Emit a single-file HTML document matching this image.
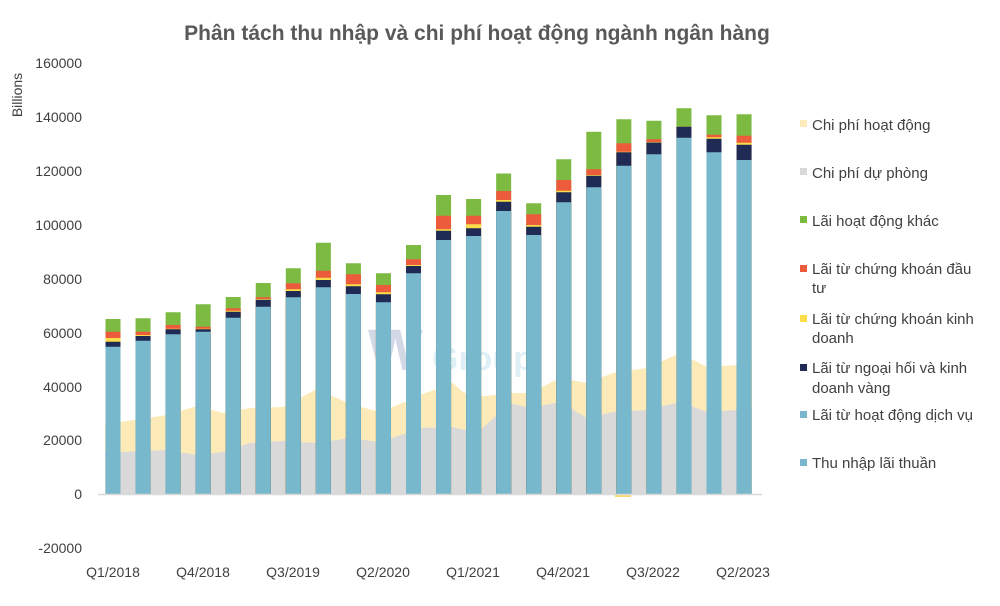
<!DOCTYPE html>
<html><head><meta charset="utf-8"><style>
body{margin:0;background:#fff;}
svg{display:block;font-family:"Liberation Sans",sans-serif;}
</style></head><body>
<svg width="1000" height="606" viewBox="0 0 1000 606" xmlns="http://www.w3.org/2000/svg">
<rect width="1000" height="606" fill="#fff"/>
<text x="477" y="40" text-anchor="middle" font-size="21" font-weight="bold" fill="#595959">Phân tách thu nhập và chi phí hoạt động ngành ngân hàng</text>
<text transform="translate(22,95) rotate(-90)" text-anchor="middle" font-size="14" fill="#404040">Billions</text>
<g font-size="14" fill="#404040" text-anchor="end">
<text x="82" y="68">160000</text><text x="82" y="122">140000</text><text x="82" y="176">120000</text>
<text x="82" y="230">100000</text><text x="82" y="284">80000</text><text x="82" y="338">60000</text>
<text x="82" y="392">40000</text><text x="82" y="445">20000</text><text x="82" y="499">0</text>
<text x="82" y="553">-20000</text>
</g>
<polygon fill="#fcebb8" points="105,494 105,423 120,422 167,415 197,406 223,413 250,408 283,407 317,389 350,404 380,412 410,400 420,395 453,383 463,392 477,397 510,393 530,393 560,378 587,383 613,373 647,368 680,353 707,367 737,365 752,362 752,494"/>
<polygon fill="#d9d9d9" points="105,494 105,452 120,452 167,450 197,455 223,452 250,443 283,441 317,443 350,438 380,442 410,432 420,428 453,427 477,433 510,403 530,408 560,402 587,418 613,412 647,410 680,402 707,412 737,410 752,408 752,494"/>
<rect x="615" y="494" width="16" height="3" fill="#fcd96b"/>
<text x="368" y="370" font-size="58" font-weight="bold" fill="#6f7fb0" opacity="0.3">W</text>
<text x="432" y="370" font-size="34" font-weight="bold" fill="#bfe0ee" opacity="0.5">Group</text>
<g fill="none" stroke-width="15">
<path stroke="#7cba42" d="M113 319V494M143.05 318.3V494M173.1 312.3V494M203.15 304.3V494M233.2 297V494M263.25 283V494M293.3 268.3V494M323.35 242.7V494M353.4 263.3V494M383.45 273.3V494M413.5 245V494M443.55 195V494M473.6 199V494M503.65 173.5V494M533.7 203.3V494M563.75 159.3V494M593.8 131.7V494M623.85 119.3V494M653.9 120.7V494M683.95 108.3V494M714 115.3V494M744.05 114.3V494"/>
<path stroke="#ec5c3c" d="M113 331.7V494M143.05 331.7V494M173.1 325V494M203.15 326.7V494M233.2 308.3V494M263.25 297.3V494M293.3 283.3V494M323.35 270.7V494M353.4 274.3V494M383.45 285V494M413.5 259.3V494M443.55 215.7V494M473.6 215.7V494M503.65 191V494M533.7 214.3V494M563.75 180V494M593.8 169.3V494M623.85 143.3V494M653.9 139.3V494M683.95 126.7V494M714 134.7V494M744.05 135.7V494"/>
<path stroke="#fbde4a" d="M113 338V494M143.05 335V494M173.1 328.7V494M203.15 328.7V494M233.2 310.7V494M263.25 299V494M293.3 289.3V494M323.35 277.7V494M353.4 284.3V494M383.45 292.3V494M413.5 265V494M443.55 229.3V494M473.6 224.3V494M503.65 200V494M533.7 225V494M563.75 190.7V494M593.8 175V494M623.85 151.7V494M653.9 142V494M683.95 126.7V494M714 137.3V494M744.05 142.7V494"/>
<path stroke="#1f2a55" d="M113 341.7V494M143.05 336V494M173.1 329.3V494M203.15 329.3V494M233.2 311.7V494M263.25 299.7V494M293.3 291V494M323.35 280V494M353.4 286.3V494M383.45 294.3V494M413.5 266V494M443.55 230.7V494M473.6 228.3V494M503.65 201.7V494M533.7 226.7V494M563.75 192.3V494M593.8 175.7V494M623.85 152.3V494M653.9 142.5V494M683.95 126.7V494M714 138.7V494M744.05 144.7V494"/>
<path stroke="#78b8cc" d="M113 346.7V494M143.05 340.7V494M173.1 334.3V494M203.15 331.7V494M233.2 317.7V494M263.25 306.7V494M293.3 297.3V494M323.35 287.3V494M353.4 294V494M383.45 302.3V494M413.5 273.3V494M443.55 240V494M473.6 236V494M503.65 211V494M533.7 235V494M563.75 202.3V494M593.8 187.3V494M623.85 165.7V494M653.9 154.3V494M683.95 137.7V494M714 152.3V494M744.05 160V494"/>
</g>
<line x1="98" y1="494.5" x2="762" y2="494.5" stroke="#d9d9d9" stroke-width="1.5"/>
<g font-size="14" fill="#404040" text-anchor="middle">
<text x="113" y="577">Q1/2018</text><text x="203" y="577">Q4/2018</text><text x="293" y="577">Q3/2019</text>
<text x="383" y="577">Q2/2020</text><text x="473" y="577">Q1/2021</text><text x="563" y="577">Q4/2021</text>
<text x="653" y="577">Q3/2022</text><text x="743" y="577">Q2/2023</text>
</g>
<g font-size="15" fill="#404040">
<rect x="800" y="120" width="7" height="7" fill="#fcebb8"/><text x="812" y="130">Chi phí hoạt động</text>
<rect x="800" y="168" width="7" height="7" fill="#d9d9d9"/><text x="812" y="178">Chi phí dự phòng</text>
<rect x="800" y="216" width="7" height="7" fill="#7cba42"/><text x="812" y="226">Lãi hoạt động khác</text>
<rect x="800" y="265" width="7" height="7" fill="#ec5c3c"/><text x="812" y="274">Lãi từ chứng khoán đầu</text><text x="812" y="293">tư</text>
<rect x="800" y="315" width="7" height="7" fill="#fbde4a"/><text x="812" y="324">Lãi từ chứng khoán kinh</text><text x="812" y="343">doanh</text>
<rect x="800" y="364" width="7" height="7" fill="#1f2a55"/><text x="812" y="373">Lãi từ ngoại hối và kinh</text><text x="812" y="393">doanh vàng</text>
<rect x="800" y="411" width="7" height="7" fill="#78b8cc"/><text x="812" y="420">Lãi từ hoạt động dịch vụ</text>
<rect x="800" y="459" width="7" height="7" fill="#78b8cc"/><text x="812" y="468">Thu nhập lãi thuần</text>
</g>
</svg>
</body></html>
